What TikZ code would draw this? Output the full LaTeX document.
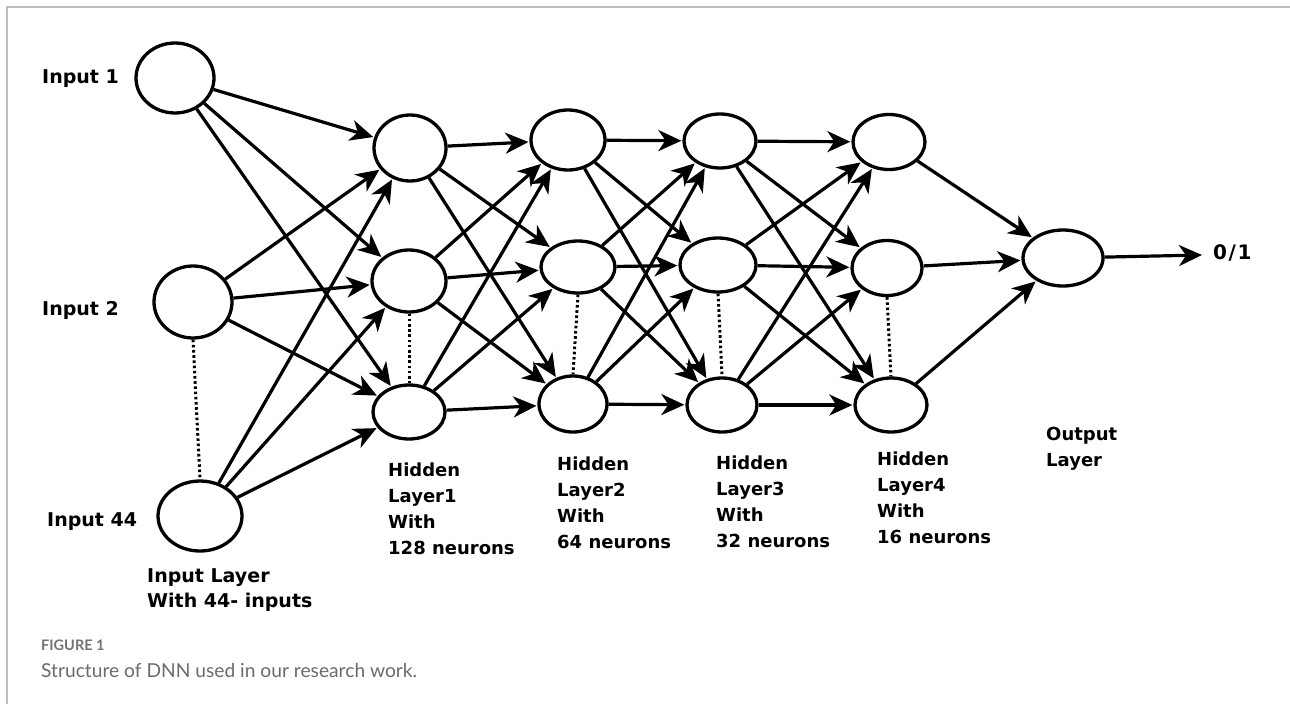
\documentclass[tikz,border=0pt]{standalone}
\usepackage{fontspec}
\setmainfont{DejaVu Sans}
\newfontfamily\capfont{Lato}
\usetikzlibrary{arrows.meta,shapes.geometric}

\begin{document}
\begin{tikzpicture}[x=1pt,y=-1pt,
  neuron/.style={draw, ellipse, line width=3.3pt, inner sep=0pt},
  link/.style={-{Stealth[length=23pt,width=21pt,inset=7pt]}, line width=3.2pt, shorten >=1pt},
  gap/.style={line width=3pt, dash pattern=on 2.6pt off 2.6pt},
  inlabel/.style={inner sep=0pt, anchor=west, font=\fontsize{19}{25}\selectfont\bfseries},
  laylabel/.style={inner sep=0pt, anchor=north west, align=left, font=\fontsize{18}{26}\selectfont\bfseries},
  frameline/.style={draw=black!25, line width=2pt}
]
\useasboundingbox (0,0) rectangle (1290,704);
\fill[white] (0,0) rectangle (1290,704);
\draw[frameline] (7,704) -- (7,7) -- (1290,7);

% input layer
\node[neuron, minimum width=78pt, minimum height=70pt] (i1)  at (175,78)  {};
\node[neuron, minimum width=78pt, minimum height=72pt] (i2)  at (193,302) {};
\node[neuron, minimum width=84pt, minimum height=70pt] (i44) at (200,516) {};

% hidden layer 1
\node[neuron, minimum width=72pt, minimum height=66pt] (h1a) at (410,148) {};
\node[neuron, minimum width=74pt, minimum height=62pt] (h1b) at (409,281) {};
\node[neuron, minimum width=72pt, minimum height=54pt] (h1c) at (409,412) {};

% hidden layer 2
\node[neuron, minimum width=74pt, minimum height=60pt] (h2a) at (568,140) {};
\node[neuron, minimum width=74pt, minimum height=52pt] (h2b) at (578,267) {};
\node[neuron, minimum width=68pt, minimum height=56pt] (h2c) at (573,404) {};

% hidden layer 3
\node[neuron, minimum width=72pt, minimum height=54pt] (h3a) at (720,141) {};
\node[neuron, minimum width=76pt, minimum height=54pt] (h3b) at (718,265) {};
\node[neuron, minimum width=70pt, minimum height=54pt] (h3c) at (722,405) {};

% hidden layer 4
\node[neuron, minimum width=72pt, minimum height=55pt] (h4a) at (889,142) {};
\node[neuron, minimum width=70pt, minimum height=55pt] (h4b) at (887,268) {};
\node[neuron, minimum width=72pt, minimum height=54pt] (h4c) at (891,405) {};

% output
\node[neuron, minimum width=80pt, minimum height=56pt] (out) at (1063,258) {};
\coordinate (tip) at (1202,255);
\node[inner sep=0pt, anchor=west, font=\fontsize{20}{25}\selectfont\bfseries\addfontfeature{LetterSpace=8}] (res) at (1213,253) {0/1};

% omitted neurons
\draw[gap] (i2.south) -- (i44.north);
\draw[gap] (h1b.south) -- (h1c.north);
\draw[gap] (h2b.south) -- (h2c.north);
\draw[gap] (h3b.south) -- (h3c.north);
\draw[gap] (h4b.south) -- (h4c.north);

% fully connected weights
\foreach \a in {i1,i2,i44} \foreach \b in {h1a,h1b,h1c} \draw[link] (\a) -- (\b);
\foreach \a in {h1a,h1b,h1c} \foreach \b in {h2a,h2b,h2c} \draw[link] (\a) -- (\b);
\foreach \a in {h2a,h2b,h2c} \foreach \b in {h3a,h3b,h3c} \draw[link] (\a) -- (\b);
\foreach \a in {h3a,h3b,h3c} \foreach \b in {h4a,h4b,h4c} \draw[link] (\a) -- (\b);
\foreach \a in {h4a,h4b,h4c} \draw[link] (\a) -- (out);
\draw[link, shorten >=0pt] (out) -- (tip);

% labels
\node[inlabel] (l1)  at (42,79)  {Input 1};
\node[inlabel] (l2)  at (42,310) {Input 2};
\node[inlabel] (l44) at (47,522) {Input 44};
\node[laylabel, font=\fontsize{19}{25}\selectfont\bfseries] (lin) at (147,568) {Input Layer\\With 44- inputs};
\node[laylabel] (lh1) at (388,463) {Hidden\\Layer1\\With\\128 neurons};
\node[laylabel] (lh2) at (557,457) {Hidden\\Layer2\\With\\64 neurons};
\node[laylabel] (lh3) at (716,456) {Hidden\\Layer3\\With\\32 neurons};
\node[laylabel] (lh4) at (877,452) {Hidden\\Layer4\\With\\16 neurons};
\node[laylabel] (lout) at (1046,427) {Output\\Layer};

% caption
\node[inner sep=0pt, anchor=west, text=black!55, font=\capfont\fontsize{14.5}{17}\selectfont\bfseries] (fig) at (41,645) {FIGURE 1};
\node[inner sep=0pt, anchor=west, text=black!58, font=\capfont\fontsize{19.2}{22}\selectfont] (cap) at (41,670) {Structure of DNN used in our research work.};
\end{tikzpicture}
\end{document}
